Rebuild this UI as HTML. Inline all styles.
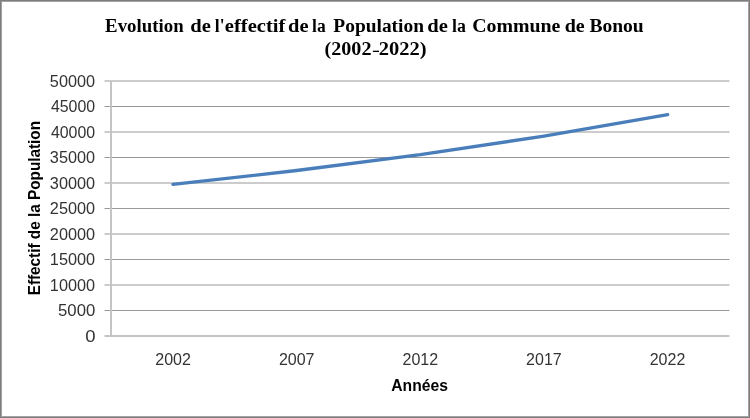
<!DOCTYPE html>
<html><head><meta charset="utf-8">
<style>
html,body{margin:0;padding:0;background:#fff;}
body{width:750px;height:418px;overflow:hidden;}
svg{display:block;will-change:transform;}
</style></head>
<body>
<svg width="750" height="418" viewBox="0 0 750 418">
<rect x="0" y="0" width="750" height="418" fill="#fff"/>
<rect x="0.5" y="0.5" width="749" height="417" fill="none" stroke="#7d7d7d" stroke-width="1"/>
<rect x="1.5" y="1.5" width="747" height="415" fill="none" stroke="#a3a3a3" stroke-width="1"/>
<path d="M104.5 81.0H729.5M104.5 106.5H729.5M104.5 132.0H729.5M104.5 157.5H729.5M104.5 183.0H729.5M104.5 208.5H729.5M104.5 234.0H729.5M104.5 259.5H729.5M104.5 285.0H729.5M104.5 310.5H729.5" stroke="#999" stroke-width="1.15" fill="none"/>
<path d="M111 81V337M104.5 336H729.5" stroke="#c4c4c4" stroke-width="2" fill="none"/>
<text x="105.10" y="31.80" textLength="78.51" lengthAdjust="spacingAndGlyphs" style='font-family:"Liberation Serif",serif;font-weight:bold;font-size:18.5px;fill:#000' xml:space="preserve">Evolution</text>
<text x="190.19" y="31.80" textLength="20.57" lengthAdjust="spacingAndGlyphs" style='font-family:"Liberation Serif",serif;font-weight:bold;font-size:18.5px;fill:#000' xml:space="preserve">de</text>
<text x="214.75" y="31.80" textLength="9.77" lengthAdjust="spacingAndGlyphs" style='font-family:"Liberation Serif",serif;font-weight:bold;font-size:18.5px;fill:#000' xml:space="preserve">l&apos;</text>
<text x="224.89" y="31.80" textLength="60.47" lengthAdjust="spacingAndGlyphs" style='font-family:"Liberation Serif",serif;font-weight:bold;font-size:18.5px;fill:#000' xml:space="preserve">effectif</text>
<text x="288.09" y="31.80" textLength="20.46" lengthAdjust="spacingAndGlyphs" style='font-family:"Liberation Serif",serif;font-weight:bold;font-size:18.5px;fill:#000' xml:space="preserve">de</text>
<text x="312.05" y="31.80" textLength="13.62" lengthAdjust="spacingAndGlyphs" style='font-family:"Liberation Serif",serif;font-weight:bold;font-size:18.5px;fill:#000' xml:space="preserve">la</text>
<text x="333.30" y="31.80" textLength="90.68" lengthAdjust="spacingAndGlyphs" style='font-family:"Liberation Serif",serif;font-weight:bold;font-size:18.5px;fill:#000' xml:space="preserve">Population</text>
<text x="427.29" y="31.80" textLength="20.57" lengthAdjust="spacingAndGlyphs" style='font-family:"Liberation Serif",serif;font-weight:bold;font-size:18.5px;fill:#000' xml:space="preserve">de</text>
<text x="452.04" y="31.80" textLength="13.84" lengthAdjust="spacingAndGlyphs" style='font-family:"Liberation Serif",serif;font-weight:bold;font-size:18.5px;fill:#000' xml:space="preserve">la</text>
<text x="472.23" y="31.80" textLength="88.22" lengthAdjust="spacingAndGlyphs" style='font-family:"Liberation Serif",serif;font-weight:bold;font-size:18.5px;fill:#000' xml:space="preserve">Commune</text>
<text x="564.72" y="31.80" textLength="20.02" lengthAdjust="spacingAndGlyphs" style='font-family:"Liberation Serif",serif;font-weight:bold;font-size:18.5px;fill:#000' xml:space="preserve">de</text>
<text x="589.40" y="31.80" textLength="54.35" lengthAdjust="spacingAndGlyphs" style='font-family:"Liberation Serif",serif;font-weight:bold;font-size:18.5px;fill:#000' xml:space="preserve">Bonou</text>
<text x="324.51" y="55.20" textLength="46.98" lengthAdjust="spacingAndGlyphs" style='font-family:"Liberation Serif",serif;font-weight:bold;font-size:18.5px;fill:#000' xml:space="preserve">(2002</text>
<text x="378.69" y="55.20" textLength="47.80" lengthAdjust="spacingAndGlyphs" style='font-family:"Liberation Serif",serif;font-weight:bold;font-size:18.5px;fill:#000' xml:space="preserve">2022)</text>
<text x="49.88" y="86.90" textLength="45.22" lengthAdjust="spacingAndGlyphs" style='font-family:"Liberation Sans",sans-serif;font-size:16.0px;fill:#333' xml:space="preserve">50000</text>
<text x="50.90" y="112.40" textLength="44.20" lengthAdjust="spacingAndGlyphs" style='font-family:"Liberation Sans",sans-serif;font-size:16.0px;fill:#333' xml:space="preserve">45000</text>
<text x="50.90" y="137.90" textLength="44.20" lengthAdjust="spacingAndGlyphs" style='font-family:"Liberation Sans",sans-serif;font-size:16.0px;fill:#333' xml:space="preserve">40000</text>
<text x="49.88" y="163.40" textLength="45.22" lengthAdjust="spacingAndGlyphs" style='font-family:"Liberation Sans",sans-serif;font-size:16.0px;fill:#333' xml:space="preserve">35000</text>
<text x="49.88" y="188.90" textLength="45.22" lengthAdjust="spacingAndGlyphs" style='font-family:"Liberation Sans",sans-serif;font-size:16.0px;fill:#333' xml:space="preserve">30000</text>
<text x="49.88" y="214.40" textLength="45.22" lengthAdjust="spacingAndGlyphs" style='font-family:"Liberation Sans",sans-serif;font-size:16.0px;fill:#333' xml:space="preserve">25000</text>
<text x="49.88" y="239.90" textLength="45.22" lengthAdjust="spacingAndGlyphs" style='font-family:"Liberation Sans",sans-serif;font-size:16.0px;fill:#333' xml:space="preserve">20000</text>
<text x="49.88" y="265.40" textLength="45.22" lengthAdjust="spacingAndGlyphs" style='font-family:"Liberation Sans",sans-serif;font-size:16.0px;fill:#333' xml:space="preserve">15000</text>
<text x="49.88" y="290.90" textLength="45.22" lengthAdjust="spacingAndGlyphs" style='font-family:"Liberation Sans",sans-serif;font-size:16.0px;fill:#333' xml:space="preserve">10000</text>
<text x="58.06" y="316.40" textLength="37.16" lengthAdjust="spacingAndGlyphs" style='font-family:"Liberation Sans",sans-serif;font-size:16.0px;fill:#333' xml:space="preserve">5000</text>
<text x="85.34" y="341.90" textLength="10.31" lengthAdjust="spacingAndGlyphs" style='font-family:"Liberation Sans",sans-serif;font-size:16.0px;fill:#333' xml:space="preserve">0</text>
<text x="155.30" y="364.70" textLength="35.59" lengthAdjust="spacingAndGlyphs" style='font-family:"Liberation Sans",sans-serif;font-size:16.0px;fill:#333' xml:space="preserve">2002</text>
<text x="278.90" y="364.70" textLength="35.59" lengthAdjust="spacingAndGlyphs" style='font-family:"Liberation Sans",sans-serif;font-size:16.0px;fill:#333' xml:space="preserve">2007</text>
<text x="402.50" y="364.70" textLength="35.59" lengthAdjust="spacingAndGlyphs" style='font-family:"Liberation Sans",sans-serif;font-size:16.0px;fill:#333' xml:space="preserve">2012</text>
<text x="526.10" y="364.70" textLength="35.59" lengthAdjust="spacingAndGlyphs" style='font-family:"Liberation Sans",sans-serif;font-size:16.0px;fill:#333' xml:space="preserve">2017</text>
<text x="649.70" y="364.70" textLength="35.59" lengthAdjust="spacingAndGlyphs" style='font-family:"Liberation Sans",sans-serif;font-size:16.0px;fill:#333' xml:space="preserve">2022</text>
<text x="391.32" y="390.60" textLength="56.56" lengthAdjust="spacingAndGlyphs" style='font-family:"Liberation Sans",sans-serif;font-weight:bold;font-size:16px;fill:#000' xml:space="preserve">Années</text>
<text transform="translate(39.70,294.40) rotate(-90)" x="-0.93" y="0" textLength="174.40" lengthAdjust="spacingAndGlyphs" style='font-family:"Liberation Sans",sans-serif;font-weight:bold;font-size:16.5px;fill:#000'>Effectif de la Population</text>
<rect x="372.9" y="50.7" width="6.1" height="1.3" fill="#000"/>
<polyline points="172.9,184.4 296.6,170.5 420.3,154.7 544.0,136.1 667.7,114.7" fill="none" stroke="#4a7ebb" stroke-width="3.3" stroke-linecap="round" stroke-linejoin="round"/>
</svg>
</body></html>
